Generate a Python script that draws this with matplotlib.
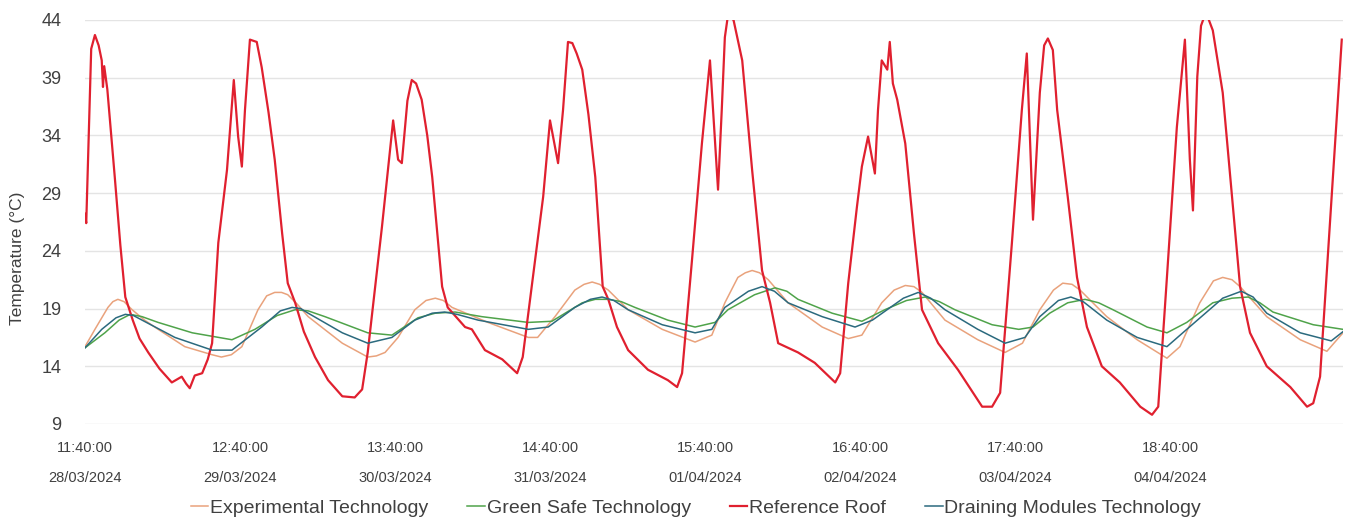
import matplotlib
matplotlib.use("Agg")
import matplotlib.pyplot as plt

plt.rcParams['font.family'] = ['Liberation Sans', 'DejaVu Sans']

# elapsed hours since 28/03/2024 11:40 and surface temperature (°C)
ref_hours = [0.0, 0.2, 1.0, 1.6, 2.2, 2.7, 2.9, 3.1, 3.6, 4.8, 5.7, 6.5, 7.7, 8.8, 10.2, 12.0,
             14.0, 15.6, 16.3, 16.9, 17.7, 18.9, 19.8, 20.5, 21.5, 22.9, 24.0, 24.7, 25.3, 25.8,
             26.6, 27.7, 28.5, 29.6, 30.6, 31.8, 32.7, 33.9, 35.3, 37.1, 39.2, 41.5, 43.5, 44.7,
             45.6, 47.9, 49.7, 50.5, 51.1, 52.0, 52.7, 53.4, 54.3, 55.2, 56.0, 57.6, 58.5, 61.3,
             62.4, 64.5, 67.3, 69.7, 70.6, 72.6, 73.9, 75.0, 76.3, 77.1, 77.9, 78.6, 79.3, 80.2,
             81.2, 82.3, 83.5, 84.4, 85.8, 87.6, 90.8, 94.0, 95.5, 96.3, 97.9, 99.5, 100.8,
             101.3, 102.1, 102.7, 103.2, 103.7, 104.6, 106.0, 107.6, 109.2, 110.5, 111.8, 115.0,
             117.7, 121.0, 121.8, 123.1, 124.5, 125.3, 126.3, 127.4, 127.9, 128.5, 129.4, 129.8,
             130.3, 131.0, 132.3, 133.7, 135.0, 137.6, 140.8, 144.7, 146.3, 147.6, 149.5, 151.1,
             151.9, 152.9, 154.0, 154.7, 155.3, 156.1, 156.8, 158.5, 160.0, 161.6, 164.0, 166.9,
             170.2, 172.1, 173.1, 174.5, 176.1, 177.4, 178.2, 178.7, 179.4, 180.0, 180.6, 181.2,
             181.9, 183.5, 185.2, 186.3, 187.9, 190.6, 194.4, 197.1, 198.1, 199.2, 202.7]
ref_temp = [27.2, 26.4, 41.5, 42.7, 41.8, 40.5, 38.2, 40.0, 38.0, 30.4, 24.5, 20.0, 18.0, 16.4,
            15.2, 13.8, 12.6, 13.1, 12.5, 12.1, 13.2, 13.4, 14.6, 16.0, 24.7, 31.0, 38.8, 33.9,
            31.3, 36.2, 42.3, 42.1, 39.9, 36.0, 31.9, 25.5, 21.2, 19.5, 17.0, 14.8, 12.8, 11.4,
            11.3, 12.0, 15.2, 26.1, 35.3, 31.9, 31.6, 37.0, 38.8, 38.5, 37.1, 34.0, 30.4, 20.9,
            19.1, 17.4, 17.2, 15.4, 14.6, 13.4, 14.8, 23.2, 28.7, 35.3, 31.6, 36.2, 42.1, 42.0,
            41.1, 39.7, 35.8, 30.4, 20.9, 19.8, 17.4, 15.4, 13.7, 12.8, 12.2, 13.4, 23.2, 33.3,
            40.5, 36.2, 29.3, 36.2, 42.5, 44.4, 44.0, 40.5, 31.0, 22.3, 19.5, 16.0, 15.2, 14.3,
            12.6, 13.4, 21.2, 27.8, 31.3, 33.9, 30.7, 36.2, 40.5, 39.7, 42.1, 38.5, 37.1, 33.3,
            25.5, 18.9, 16.0, 13.7, 10.5, 10.5, 11.7, 24.7, 36.2, 41.1, 26.7, 37.7, 41.8, 42.4,
            41.4, 36.2, 28.7, 21.7, 17.4, 14.0, 12.6, 10.5, 9.8, 10.5, 21.7, 34.7, 42.3, 31.9,
            27.5, 39.1, 43.5, 44.4, 44.1, 43.1, 37.7, 27.5, 20.9, 16.9, 14.0, 12.2, 10.5, 10.8,
            13.1, 42.3]

exp_hours = [0, 1.6, 3.7, 4.5, 5.3, 6.3, 7.6, 9.6, 11.8, 16.1, 20.5, 22.0, 23.6, 25.3, 27.9,
             29.3, 30.6, 31.7, 32.7, 34.2, 36.0, 41.5, 45.6, 47.0, 48.4, 50.5, 53.2, 55.0, 56.5,
             57.8, 59.2, 65.0, 71.5, 73.0, 75.8, 79.0, 80.5, 81.8, 83.0, 84.4, 87.6, 93.1, 98.4,
             101.1, 103.2, 105.3, 106.5, 107.6, 108.8, 110.2, 113.4, 118.9, 123.1, 125.3, 128.5,
             130.5, 132.3, 133.7, 135.0, 138.7, 144.0, 148.4, 151.2, 154.0, 156.2, 157.7, 159.2,
             160.5, 164.8, 169.7, 174.5, 176.6, 179.8, 182.0, 183.5, 185.0, 186.3, 190.6, 196.0,
             200.3, 202.9]
exp_temp = [15.7, 17.2, 19.1, 19.6, 19.8, 19.6, 18.9, 18.0, 17.2, 15.7, 15.0, 14.8, 15.0, 15.7,
            18.9, 20.1, 20.4, 20.4, 20.2, 19.4, 18.3, 16.0, 14.8, 14.9, 15.2, 16.5, 18.9, 19.7,
            19.9, 19.7, 19.1, 17.8, 16.5, 16.5, 18.3, 20.6, 21.1, 21.3, 21.1, 20.6, 18.9, 17.2,
            16.1, 16.7, 19.5, 21.7, 22.1, 22.3, 22.1, 21.5, 19.5, 17.4, 16.4, 16.7, 19.5, 20.6,
            21.0, 20.9, 20.4, 18.0, 16.3, 15.2, 16.0, 18.9, 20.6, 21.2, 21.1, 20.6, 18.3, 16.3,
            14.7, 15.7, 19.5, 21.4, 21.7, 21.5, 20.9, 18.3, 16.3, 15.3, 16.9]

green_hours = [0, 3.2, 5.5, 7.3, 9.2, 11.8, 17.3, 23.7, 27.4, 31.0, 33.9, 36.0, 38.7, 45.6,
               49.5, 53.7, 56.5, 59.7, 64.0, 71.5, 75.3, 80.2, 82.3, 84.4, 86.5, 88.7, 94.0,
               98.4, 101.6, 103.7, 108.0, 111.3, 113.2, 115.0, 120.5, 125.3, 129.0, 132.5,
               135.5, 137.8, 140.3, 146.3, 150.6, 152.9, 155.6, 158.5, 161.3, 163.5, 165.8,
               171.3, 174.5, 177.7, 181.9, 185.0, 187.6, 189.5, 191.6, 198.1, 202.9]
green_temp = [15.6, 16.9, 18.0, 18.5, 18.3, 17.8, 16.9, 16.3, 17.2, 18.4, 18.9, 18.8, 18.3,
              16.9, 16.7, 18.2, 18.6, 18.7, 18.3, 17.8, 17.9, 19.5, 19.8, 19.8, 19.6, 19.1, 18.0,
              17.4, 17.8, 18.9, 20.2, 20.8, 20.5, 19.8, 18.6, 17.9, 18.9, 19.7, 20.0, 19.6, 18.9,
              17.6, 17.2, 17.4, 18.6, 19.5, 19.8, 19.5, 18.9, 17.4, 16.9, 17.8, 19.5, 19.9, 20.0,
              19.5, 18.7, 17.6, 17.2]

drain_hours = [0, 2.7, 5.0, 6.5, 7.8, 9.2, 14.5, 20.5, 23.7, 28.5, 31.5, 33.4, 34.8, 36.0, 41.5,
               45.6, 49.5, 53.2, 56.0, 58.0, 60.0, 63.4, 71.5, 74.7, 79.0, 81.5, 83.4, 85.3, 87.6,
               93.1, 98.4, 101.1, 103.2, 107.0, 109.2, 111.2, 113.4, 118.9, 124.2, 127.0, 132.0,
               134.4, 136.4, 138.7, 144.0, 148.4, 151.6, 154.0, 157.0, 159.0, 161.0, 164.8, 169.7,
               174.5, 177.7, 183.5, 186.5, 188.4, 190.6, 196.0, 201.0, 202.9]
drain_temp = [15.6, 17.2, 18.2, 18.5, 18.4, 18.0, 16.5, 15.4, 15.4, 17.4, 18.8, 19.1, 19.0, 18.6,
              16.9, 16.0, 16.5, 18.0, 18.6, 18.7, 18.5, 18.0, 17.2, 17.4, 19.1, 19.8, 20.0, 19.7,
              18.9, 17.6, 16.9, 17.2, 19.1, 20.5, 20.9, 20.5, 19.5, 18.3, 17.4, 18.0, 19.9, 20.4,
              19.9, 18.9, 17.2, 16.0, 16.5, 18.3, 19.7, 20.0, 19.6, 18.0, 16.5, 15.7, 17.2, 19.9,
              20.5, 20.0, 18.6, 16.9, 16.2, 17.0]

tick_hours = [0, 25, 50, 75, 100, 125, 150, 175]
tick_times = ["11:40:00", "12:40:00", "13:40:00", "14:40:00",
              "15:40:00", "16:40:00", "17:40:00", "18:40:00"]
tick_dates = ["28/03/2024", "29/03/2024", "30/03/2024", "31/03/2024",
              "01/04/2024", "02/04/2024", "03/04/2024", "04/04/2024"]
y_ticks = [9, 14, 19, 24, 29, 34, 39, 44]

fig = plt.figure(figsize=(13.56, 5.22), dpi=100)
ax = fig.add_axes([85 / 1356, 1 - 424 / 522, (1343 - 85) / 1356, (424 - 20) / 522])

ax.plot(exp_hours, exp_temp, color="#E9A27C", lw=1.1, label="Experimental Technology")
ax.plot(green_hours, green_temp, color="#4FA34A", lw=1.1, label="Green Safe Technology")
ax.plot(ref_hours, ref_temp, color="#E0202F", lw=1.6, label="Reference Roof")
ax.plot(drain_hours, drain_temp, color="#2B6A7E", lw=1.1, label="Draining Modules Technology")

ax.set_xlim(0, 202.9)
ax.set_ylim(9, 44)
ax.set_yticks(y_ticks)
ax.set_xticks(tick_hours)
ax.set_xticklabels([t + "\n" + d for t, d in zip(tick_times, tick_dates)])
plt.setp(ax.get_xticklabels(), linespacing=2.45)
ax.tick_params(axis="x", length=0, pad=12, labelsize=10.5, labelcolor="#404040")
ax.tick_params(axis="y", length=0, pad=17, labelsize=13, labelcolor="#404040")
ax.grid(axis="y", color="#E4E4E4", lw=1)
ax.set_axisbelow(True)
for s in ax.spines.values():
    s.set_visible(False)

fig.text(18 / 1356, 1 - 258 / 522, "Temperature (°C)", rotation=90, ha="center",
         va="center", fontsize=12.5, color="#404040")

fig.legend(loc="center", bbox_to_anchor=(696 / 1356, 1 - 508 / 522), ncol=4, frameon=False,
           fontsize=14, handlelength=0.9, handletextpad=0.1, columnspacing=2.0,
           labelcolor="#404040")

fig.savefig("out.png", dpi=100)
